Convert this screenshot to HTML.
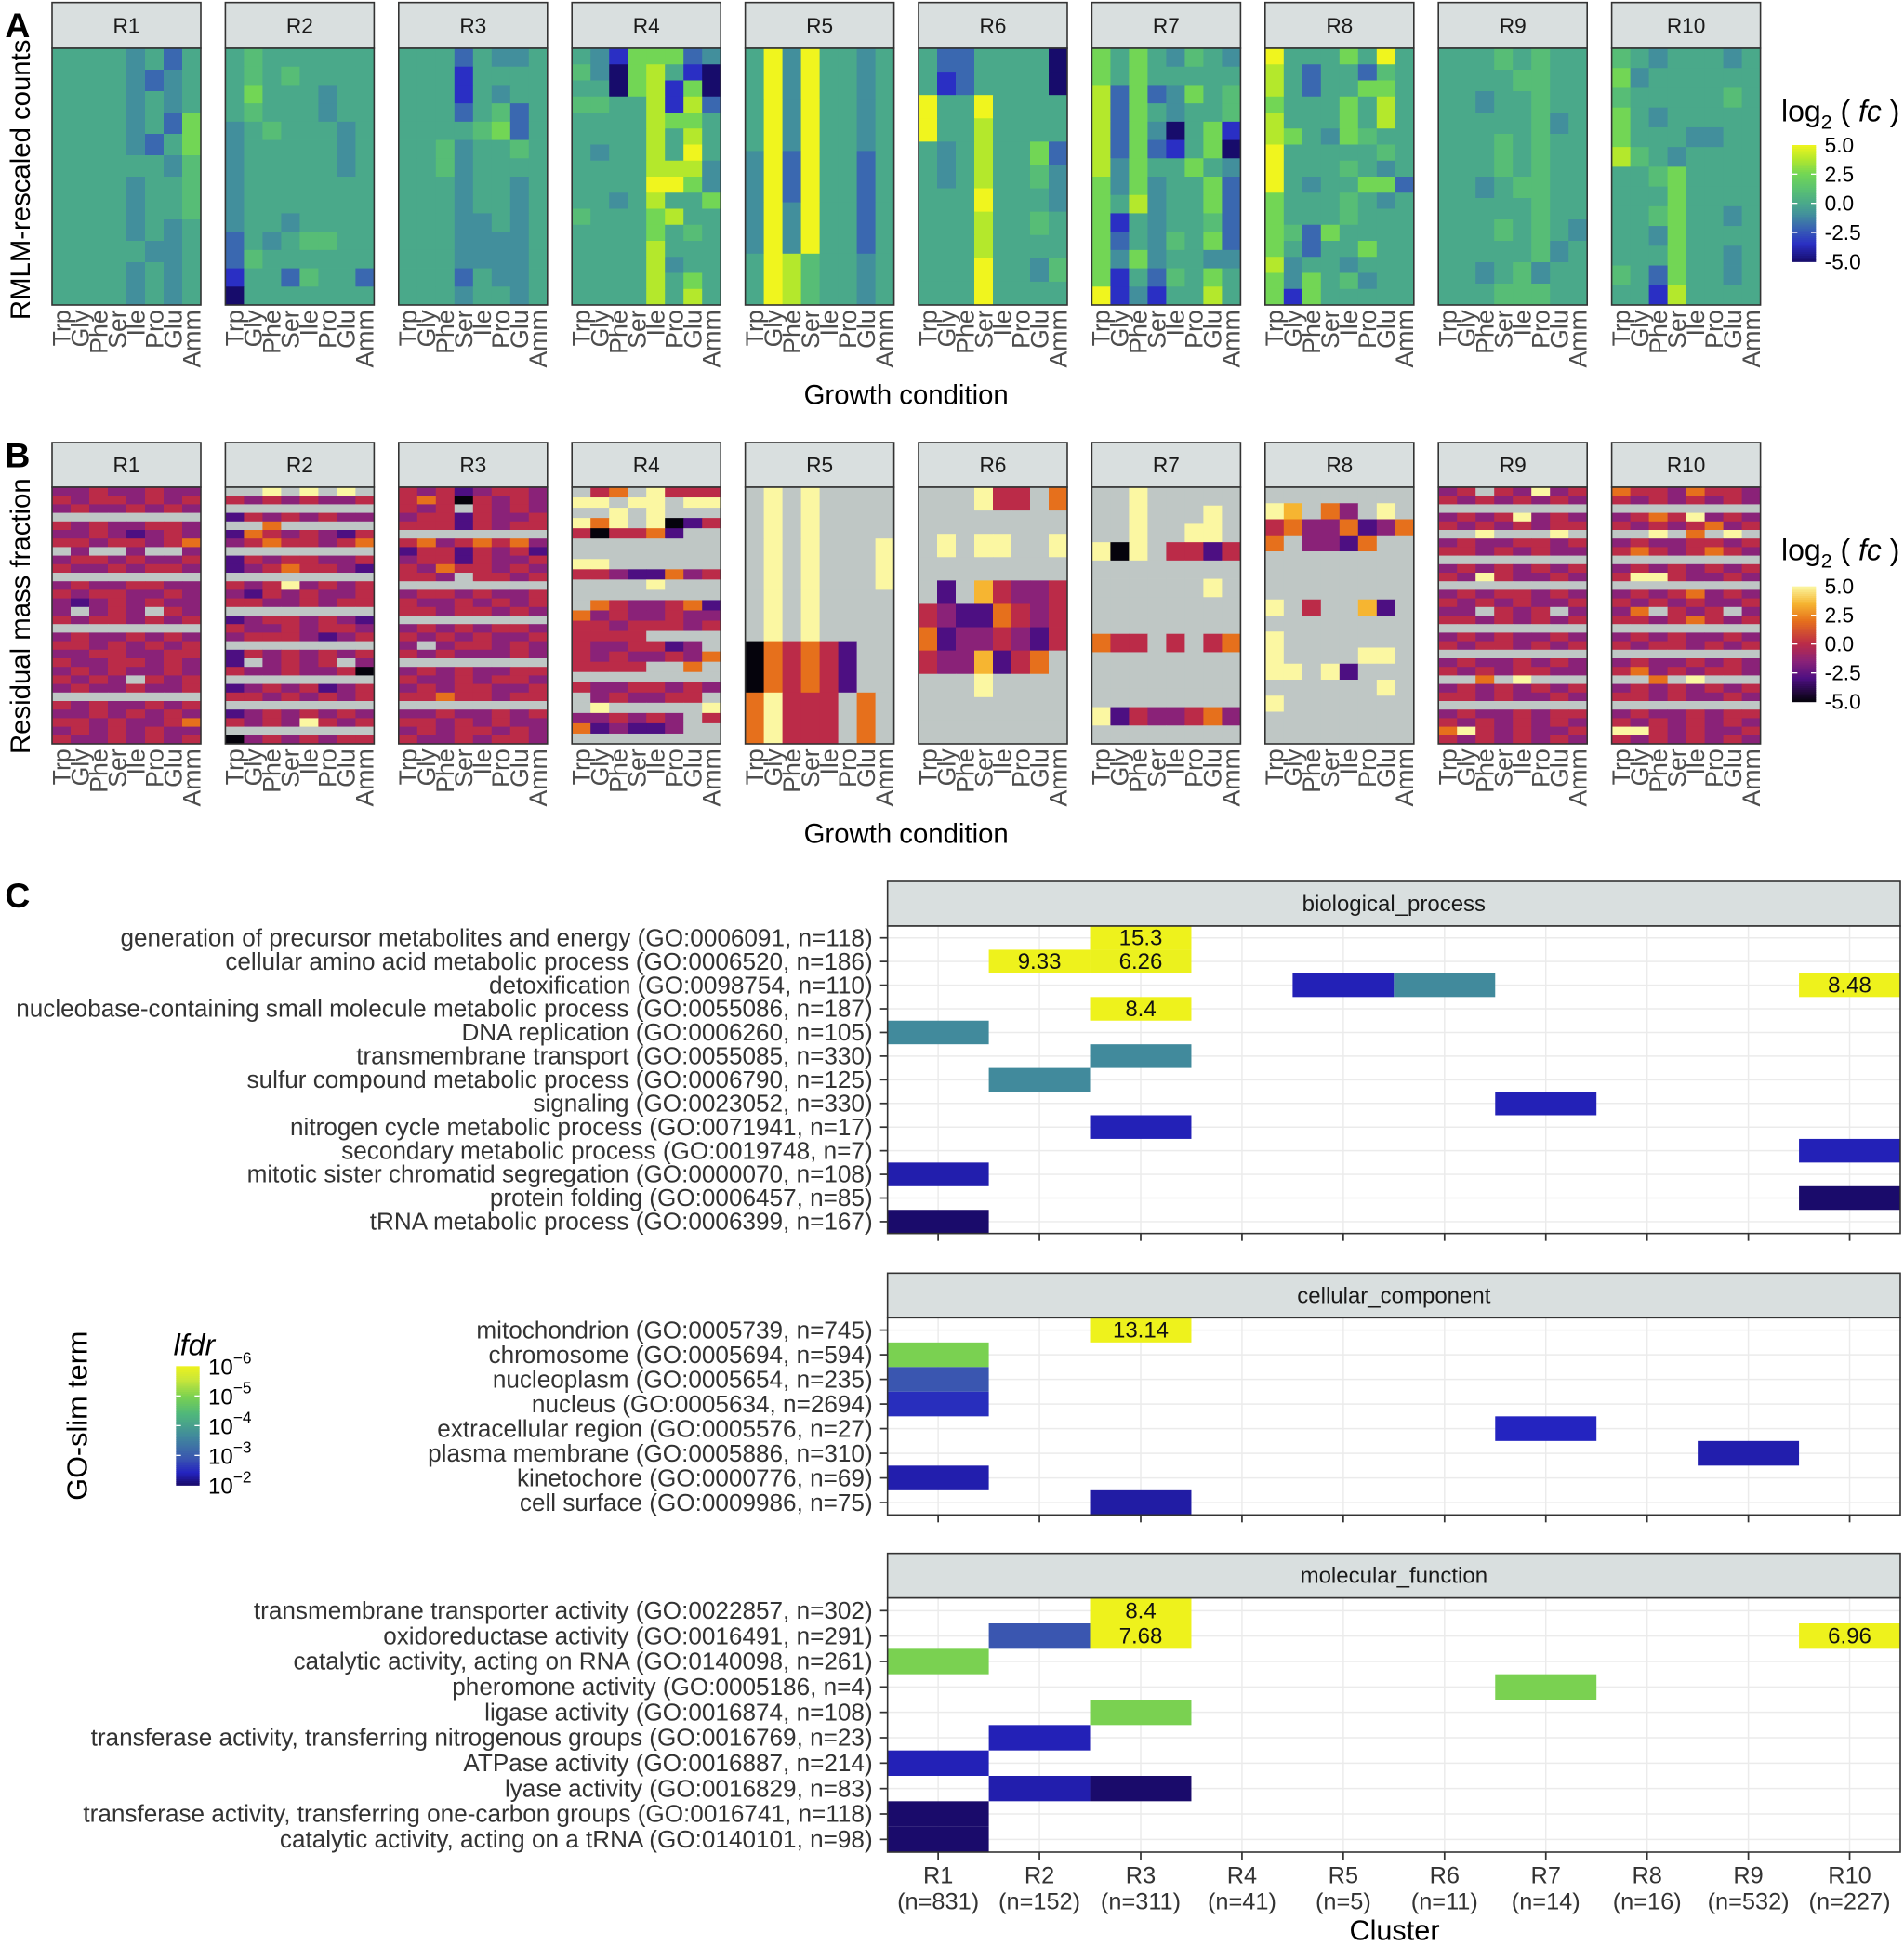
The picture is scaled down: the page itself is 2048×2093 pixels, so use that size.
<!DOCTYPE html>
<html><head><meta charset="utf-8"><style>
html,body{margin:0;padding:0;background:#fff;}
svg{display:block;font-family:"Liberation Sans",sans-serif;}
</style></head><body>
<svg id="fig" xmlns="http://www.w3.org/2000/svg" width="2048" height="2093" viewBox="0 0 1536 1569.75">
<rect x="0" y="0" width="1536" height="1570" fill="#fff"/>
</svg>
<script>
// ---------- DATA ----------
const clusters = ["R1","R2","R3","R4","R5","R6","R7","R8","R9","R10"];
const clusterN = ["(n=831)","(n=152)","(n=311)","(n=41)","(n=5)","(n=11)","(n=14)","(n=16)","(n=532)","(n=227)"];
const conditions = ["Trp","Gly","Phe","Ser","Ile","Pro","Glu","Amm"];
// Panel A level codes: a=-5 b=-3.5 c=-2 d=-1 e=0 f=1 g=2.5 h=3.8 i=5
const levelA = {a:-5,b:-3.5,c:-2,d:-1,e:0,f:1,g:2.5,h:3.8,i:5};
const heatA_R1 = ["eeeedece","eeeedcde","eeeedede","eeeedecg","eeeedceg","eeeeeedf","eeeedeef","eeeedeef","eeeedede","eeeeedde","eeeedede","eeeedede"];
const heatA_R2 = ["efeeeeee","efefeeee","egeeedee","efeeedee","defeeede","deeeeede","deeeeede","deeeeeee","deeeeeee","deedeeee","cedeffee","cfeeeeee","beecfeec","aeeeeeee"];
const heatA_R3 = ["eeecedde","eeebeeee","eeebedee","eeecefce","eeeefgce","eefdeefe","eefdeeee","eeedeede","eeedeede","eeeddede","eeedddde","eeedddde","eeecedde","eeedeede"];
const heatA_R4 = ["edbgggcd","fdagheba","eeaghbga","ffeehbhc","eeeehgge","eeeehehe","edeeheie","eeeehhhd","eeeeiigd","eedeheeg","feeeghee","eeeegefe","eeeeheee","eeeehdee","eeeehege","eeeehehe"];
const heatA_R5 = ["eidieede","eidieede","dicieece","didieece","eihfeede"];
const heatA_R6 = ["ecceeeea","ebceeeea","ieeieeee","ieeheeee","edeheegc","edeheefd","eeeieeed","eeeheefe","eeeheeee","eeeieedf","eeeieeee"];
const heatA_R7 = ["gegedfed","gegeeeee","hcgcdgef","hcgedeef","hcgdaegb","hcgcbega","hdgeeged","gdgdeegc","gehdeegc","gbedeefc","gcedfegc","gdgdeedd","gbecfege","ibdbeehe"];
const heatA_R8 = ["ieeegeie","heceecfe","heceegge","geeegehe","heeegehe","hgedgfee","ieeeeefe","ieeefede","iedeeggc","geeefede","geeefeee","gfcgeeee","geceegee","hdeedeee","gdgefdee","gbgeeeee"];
const heatA_R9 = ["eeefefee","eeeeffee","eedeefee","eeeeefde","eeefefee","eeefefee","eedeffee","eeeeefee","eeefefed","eeeeefde","eedefdee","eeefffee"];
const heatA_R10 = ["fedeeede","gdeeeeee","feeeeefe","gedeeeee","geeeddee","hfedeeee","eefgeeee","eeegeeee","eefgeede","eedgeeee","eeegeede","fecgeede","eebheeee"];
// Panel B level codes: k=-5 p=-3 m=-1.5 r=0 o=2 l=3.5 y=5 .=NA
const levelB = {k:-5,p:-3,m:-1.5,r:0,o:2,l:3.5,y:5};
const heatB_R1 = ["mmrmmrmm","rmrrmrmr","mrmmrmrm","........","rmrmmrrm","mmrmpmrm","rrmrrmro",".m..m..m","mrrmrmmr","rmmrmrrm","........","mrmmrrmm","rmrrmmrm","mpmrmrmm","m.mrm.rm","rmrrmrmr","........","mrmmrmrm","rrmrmrmr","mmrrmmrr","rmmrrmrm","mrmrmmrm","rmrm.rmr","mrmmrmmr","........","rmrmmrmr","mmrmrmrm","rrmrmmro","mrmrmrmm","rmmrmrmr"];
const heatB_R2 = ["..y.y.y.","rmrmrmmr","........","prmrmrmm","..o.....","pormrmpr","mrorrmro","........","prmrrmmr","pmrorrmp","........","rmrymrmr","mprmrmmr","rrmmrmrr","........","pmrrmrmp","rmmrmrrm","mrrrmpmr","........","prmrmrmr","p.mrmr.m","rmmrmmrk","........","pmrmrpmr","rrmrmrmr","........","pmrmrmrm","rmrmyrmr","........","kmrmrmrr"];
const heatB_R3 = ["rmrpmrrm","rorkrmrm","rmr.rmrm","mrrprmmr","rrrprmrr","........","romrorom","prrprmrp","mrrprmmr","rmorrmrm","rrm.rrmr","........","mrrmrmmr","rmmrmrmr","rrmrrmrm","........","mrmrmrrm","rmrmrmmr","m.mrrmrm","rmrmmmrm","........","mrmrmmrr","rmmrmrrm","mrmrrmmr","rrorrmrr","........","mmrmmrmr","rrmrmrmm","mrmrrmrm","rmmrmrrm"];
const heatB_R4 = [".ro.yrrr","yy.yy.yy","..y.y...","yoy.ykpr","rkrrop..","........","........","yy......","rrmppomr","....y...","........",".ormmrop","omrmmrmm","rrmrrrmr","rrrr....","rmmrrpm.","rmrmmrmo","rrrr..o.","........","rmmrrmrm",".mrmmrr.",".y.....y","mmrmrm.r","opmppm..","........"];
const heatB_R5 = [".y.y....",".y.y...y",".y.y....","kororp..","oyrrr.o."];
const heatB_R6 = ["...yrr.o","........",".y.yy..y","........",".p.lrmmr","rmppormr","opmmrmpr","rmmlpro.","...y....","........","........"];
const heatB_R7 = ["..y.....","..y...y.","..y..yy.","yky.rrpr","........","......y.","........","........","orr.r.ro","........","........","........","yprmmrom","........"];
const heatB_R8 = ["........","yl.om.y.","rommopmo","o.mmpo..","........","........","........","y.r..lp.","........","y.......","y....yy.","yy.yp...","......y.","y.......","........","........"];
const heatB_R9 = ["mr.rmymr","rmrmrmrm","........","mrmrymrm","rmrmrmrr","..y...y.","mrmmrrmr","rrmrmrmm","........","mrmrmrmr","rmyrmmrm","........","mrmrrmrm","rmrmrmmr","mm.rmr.m","rrmrmrmr","........","mrmrmmrm","rmrrmrmr","........","mrmmrmrm","rmrmrrmm","..o.y...","mrmrmrmr","rrmrmmrm","........","mrmmrmrr","rmrmrmrm","oyrmrmmr","rmrmrmrm"];
const heatB_R10 = ["orrmorrm","rmrmrmrm","........","mrorymrm","rmrmromr","..y.o.y.","mrmmrrmr","rormrorm","........","mrmrmrmr","ryyrmmrm","........","mrmromrm","rmrmrmmr","mo.rmr.m","rrmrormr","........","mrmrmmrm","rmrrmrmr","........","mrmmrmrm","romrmrrm","..o.y...","mrmrmrmr","rrmrmmrm","........","mrmmrmrr","rmrmrmrm","yyrmrmmr","rmrmrmrm"];
// Panel C: GO-slim terms; values are log10(lfdr); labelled tiles are beyond scale
const bpTerms = ["generation of precursor metabolites and energy (GO:0006091, n=118)","cellular amino acid metabolic process (GO:0006520, n=186)","detoxification (GO:0098754, n=110)","nucleobase-containing small molecule metabolic process (GO:0055086, n=187)","DNA replication (GO:0006260, n=105)","transmembrane transport (GO:0055085, n=330)","sulfur compound metabolic process (GO:0006790, n=125)","signaling (GO:0023052, n=330)","nitrogen cycle metabolic process (GO:0071941, n=17)","secondary metabolic process (GO:0019748, n=7)","mitotic sister chromatid segregation (GO:0000070, n=108)","protein folding (GO:0006457, n=85)","tRNA metabolic process (GO:0006399, n=167)"];
const bpRow = [0,1,1,2,2,2,3,4,5,6,7,8,9,10,11,12];
const bpCol = [2,1,2,4,5,9,2,0,2,1,6,2,9,0,9,0];
const bpVal = [-15.3,-9.33,-6.26,-2.45,-3.8,-8.48,-8.4,-3.8,-3.8,-3.8,-2.45,-2.45,-2.45,-2.4,-2.05,-2.05];
const bpLab = ["15.3","9.33","6.26","","","8.48","8.4","","","","","","","","",""];
const ccTerms = ["mitochondrion (GO:0005739, n=745)","chromosome (GO:0005694, n=594)","nucleoplasm (GO:0005654, n=235)","nucleus (GO:0005634, n=2694)","extracellular region (GO:0005576, n=27)","plasma membrane (GO:0005886, n=310)","kinetochore (GO:0000776, n=69)","cell surface (GO:0009986, n=75)"];
const ccRow = [0,1,2,3,4,5,6,7];
const ccCol = [2,0,0,0,6,8,0,2];
const ccVal = [-13.14,-5.2,-3.0,-2.6,-2.5,-2.4,-2.4,-2.35];
const ccLab = ["13.14","","","","","","",""];
const mfTerms = ["transmembrane transporter activity (GO:0022857, n=302)","oxidoreductase activity (GO:0016491, n=291)","catalytic activity, acting on RNA (GO:0140098, n=261)","pheromone activity (GO:0005186, n=4)","ligase activity (GO:0016874, n=108)","transferase activity, transferring nitrogenous groups (GO:0016769, n=23)","ATPase activity (GO:0016887, n=214)","lyase activity (GO:0016829, n=83)","transferase activity, transferring one-carbon groups (GO:0016741, n=118)","catalytic activity, acting on a tRNA (GO:0140101, n=98)"];
const mfRow = [0,1,1,1,2,3,4,5,6,7,7,8,9];
const mfCol = [2,1,2,9,0,6,2,1,0,1,2,0,0];
const mfVal = [-8.4,-3.0,-7.68,-6.96,-5.2,-5.2,-5.2,-2.45,-2.45,-2.4,-2.05,-2.05,-2.05];
const mfLab = ["8.4","","7.68","6.96","","","","","","","","",""];
const lfdrTicks = ["−6","−5","−4","−3","−2"];
const fcTicks = ["5.0","2.5","0.0","-2.5","-5.0"];

// ---------- helpers ----------
const NS = "http://www.w3.org/2000/svg";
const svg = document.getElementById("fig");
function mk(tag, attrs, parent){const e=document.createElementNS(NS,tag);for(const k in attrs)e.setAttribute(k,attrs[k]);(parent||svg).appendChild(e);return e;}
function hex(c){return [parseInt(c.slice(1,3),16),parseInt(c.slice(3,5),16),parseInt(c.slice(5,7),16)];}
function grad(stops,v){ if(v<=stops[0][0])return stops[0][1]; if(v>=stops[stops.length-1][0])return stops[stops.length-1][1];
  for(let i=1;i<stops.length;i++){ if(v<=stops[i][0]){const t=(v-stops[i-1][0])/(stops[i][0]-stops[i-1][0]);const a=hex(stops[i-1][1]),b=hex(stops[i][1]);
   return "rgb("+a.map((x,j)=>Math.round(x+(b[j]-x)*t)).join(",")+")";}}}
const stopsA=[[-5,"#170c6b"],[-3.5,"#2a2fc4"],[-2,"#3a68b0"],[-1,"#428f9c"],[0,"#4aa98a"],[1.2,"#5ac172"],[2.5,"#72d655"],[3.8,"#b4e82c"],[5,"#f0f51e"]];
const stopsB=[[-5,"#05030c"],[-3,"#4d0f82"],[-1.5,"#8a2278"],[0,"#bb2b48"],[2,"#e6701c"],[3.5,"#f6b531"],[5,"#fbf7a2"]];
const stopsL=[[-6.3,"#eef21c"],[-5.8,"#c8e63a"],[-5.2,"#7ad151"],[-4.6,"#50b87a"],[-3.8,"#418a9c"],[-3,"#3a56b0"],[-2.5,"#2424c0"],[-2.05,"#1a0b6b"]];
function colA(v){return grad(stopsA,v);} function colB(v){return grad(stopsB,v);} function colL(v){return grad(stopsL,v);}
const NA="#bfc7c5";

// ---------- Panels A & B ----------
const pX0=42, pStep=139.8, pW=120;
function xPanel(i){return pX0+i*pStep;}
function drawFacetRow(heats, levels, colFn, stripY, heatY, heatH, tag){
  heats.forEach((rows,pi)=>{
    const x=xPanel(pi);
    const g=mk("g",{});
    
    
    const st=mk("rect",{x:x,y:stripY,width:pW,height:heatY-stripY,fill:"#d9dfdf",stroke:"#333","stroke-width":1.2},g);
    
    
    const stt=mk("text",{x:x+pW/2,y:stripY+(heatY-stripY)/2+6,"text-anchor":"middle","font-size":17,fill:"#1a1a1a"},g);
    stt.textContent=clusters[pi];
    
    
    const nr=rows.length, ch=heatH/nr, cw=pW/8;
    rows.forEach((row,ri)=>{
      for(let ci=0;ci<8;ci++){
        const c=row[ci]; const v=levels[c];
        const r=mk("rect",{x:x+ci*cw,y:heatY+ri*ch,width:cw+0.3,height:ch+0.3,fill:(v===undefined?NA:colFn(v))},g);
        
        
      }
    });
    mk("rect",{x:x,y:heatY,width:pW,height:heatH,fill:"none",stroke:"#333","stroke-width":1.2},g);
    conditions.forEach((c,ci)=>{
      const t=mk("text",{transform:"translate("+(x+ci*cw+cw/2+7)+","+(heatY+heatH+4)+") rotate(-90)","text-anchor":"end","font-size":20,fill:"#4d4d4d"},g);
      t.textContent=c;
      
      
    });
  });
}
drawFacetRow([heatA_R1,heatA_R2,heatA_R3,heatA_R4,heatA_R5,heatA_R6,heatA_R7,heatA_R8,heatA_R9,heatA_R10],levelA,colA,2,39,207,"a");
drawFacetRow([heatB_R1,heatB_R2,heatB_R3,heatB_R4,heatB_R5,heatB_R6,heatB_R7,heatB_R8,heatB_R9,heatB_R10],levelB,colB,357,393,207,"b");

function txt(x,y,s,attrs,name){const t=mk("text",Object.assign({x:x,y:y},attrs));t.textContent=s;return t;}
txt(4,30,"A",{"font-size":28,"font-weight":"bold"},"panel-a-letter");
txt(4,377,"B",{"font-size":28,"font-weight":"bold"},"panel-b-letter");
txt(4,732,"C",{"font-size":28,"font-weight":"bold"},"panel-c-letter");
txt(731,326,"Growth condition",{"font-size":22,"text-anchor":"middle"},"panel-a-x-title");
txt(731,680,"Growth condition",{"font-size":22,"text-anchor":"middle"},"panel-b-x-title");
txt(0,0,"RMLM-rescaled counts",{"font-size":22,"text-anchor":"middle",transform:"translate(24,145) rotate(-90)"},"panel-a-y-title");
txt(0,0,"Residual mass fraction",{"font-size":22,"text-anchor":"middle",transform:"translate(24,497) rotate(-90)"},"panel-b-y-title");

// colorbar legends
function colorbar(x,y,w,h,vTop,vBot,colFn,labels,labelFmt,name){
  const g=mk("g",{});
  
  
  const n=60;
  for(let i=0;i<n;i++){const v=vTop+(vBot-vTop)*(i+0.5)/n;
    mk("rect",{x:x,y:y+i*h/n,width:w,height:h/n+0.4,fill:colFn(v)},g);}
  labels.forEach((l,i)=>{const yy=y+i*h/(labels.length-1);
    if(i>0&&i<labels.length-1){mk("line",{x1:x,x2:x+4,y1:yy,y2:yy,stroke:"#fff","stroke-width":1},g);mk("line",{x1:x+w-4,x2:x+w,y1:yy,y2:yy,stroke:"#fff","stroke-width":1},g);}
    labelFmt(g,x+w+7,yy,l);});
}
function fcTitle(y,name){const t=mk("text",{x:1437,y:y,"font-size":24});
  
  
  t.innerHTML='log<tspan font-size="16" dy="6">2</tspan><tspan dy="-6"> ( </tspan><tspan font-style="italic">fc</tspan> )';}
fcTitle(98,"panel-a-legend-title");
fcTitle(452,"panel-b-legend-title");
function fcLab(g,x,y,l){const t=mk("text",{x:x,y:y+6,"font-size":17},g);t.textContent=l;}
colorbar(1446,117,19,94,5,-5,colA,fcTicks,fcLab,"panel-a-legend");
colorbar(1446,473,19,93,5,-5,colB,fcTicks,fcLab,"panel-b-legend");

// ---------- Panel C ----------
const cx0=716, cx1=1533, colW=(cx1-cx0)/10;
function xC(i){return cx0+(i+0.5)*colW;}
function facet(title,stripY,top,bottom,terms,rowArr,colArr,valArr,labArr,name){
  const g=mk("g",{});
  
  
  const st=mk("rect",{x:cx0,y:stripY,width:cx1-cx0,height:top-stripY,fill:"#d9dfdf",stroke:"#333","stroke-width":1.2},g);
  
  
  const stt=mk("text",{x:(cx0+cx1)/2,y:stripY+(top-stripY)/2+6,"text-anchor":"middle","font-size":18,fill:"#1a1a1a"},g);
  stt.textContent=title;
  
  
  mk("rect",{x:cx0,y:top,width:cx1-cx0,height:bottom-top,fill:"#fff"},g);
  const rh=(bottom-top)/terms.length;
  const yC=i=>top+(i+0.5)*rh;
  for(let i=0;i<10;i++)mk("line",{x1:xC(i),x2:xC(i),y1:top,y2:bottom,stroke:"#ebebeb","stroke-width":1.1},g);
  terms.forEach((t,i)=>{mk("line",{x1:cx0,x2:cx1,y1:yC(i),y2:yC(i),stroke:"#ebebeb","stroke-width":1.1},g);
    const lt=mk("text",{x:704,y:yC(i)+6.5,"text-anchor":"end","font-size":19.6,fill:"#333"},g);lt.textContent=t;
    
    
    mk("line",{x1:710,x2:716,y1:yC(i),y2:yC(i),stroke:"#333","stroke-width":1.3},g);});
  rowArr.forEach((r,k)=>{
    const tile=mk("rect",{x:cx0+colArr[k]*colW,y:top+r*rh,width:colW,height:rh,fill:colL(valArr[k])},g);
    
    
    if(labArr[k]){const tl=mk("text",{x:xC(colArr[k]),y:yC(r)+6,"text-anchor":"middle","font-size":18,fill:"#111"},g);tl.textContent=labArr[k];
      
      }
  });
  mk("rect",{x:cx0,y:top,width:cx1-cx0,height:bottom-top,fill:"none",stroke:"#333","stroke-width":1.2},g);
  for(let i=0;i<10;i++)mk("line",{x1:xC(i),x2:xC(i),y1:bottom,y2:bottom+6,stroke:"#333","stroke-width":1.3},g);
}
facet("biological_process",711,747,995,bpTerms,bpRow,bpCol,bpVal,bpLab,"facet-biological-process");
facet("cellular_component",1027,1063,1222,ccTerms,ccRow,ccCol,ccVal,ccLab,"facet-cellular-component");
facet("molecular_function",1253,1289,1494,mfTerms,mfRow,mfCol,mfVal,mfLab,"facet-molecular-function");
clusters.forEach((c,i)=>{
  txt(xC(i),1519,c,{"text-anchor":"middle","font-size":19,fill:"#333"},"x-tick-label");
  txt(xC(i),1540,clusterN[i],{"text-anchor":"middle","font-size":19,fill:"#333"},"x-tick-count");
});
txt(1125,1565,"Cluster",{"font-size":23,"text-anchor":"middle"},"panel-c-x-title");
txt(0,0,"GO-slim term",{"font-size":23,"text-anchor":"middle",transform:"translate(70,1142) rotate(-90)"},"panel-c-y-title");
txt(140,1093,"lfdr",{"font-size":24,"font-style":"italic"},"lfdr-legend-title");
function lfLab(g,x,y,l){const t=mk("text",{x:x,y:y+7,"font-size":18},g);t.innerHTML='10<tspan font-size="13" dy="-9">'+l+'</tspan>';}
colorbar(142,1102,19,96,-6.3,-2.05,colL,lfdrTicks,lfLab,"lfdr-legend");
</script>
</body></html>
